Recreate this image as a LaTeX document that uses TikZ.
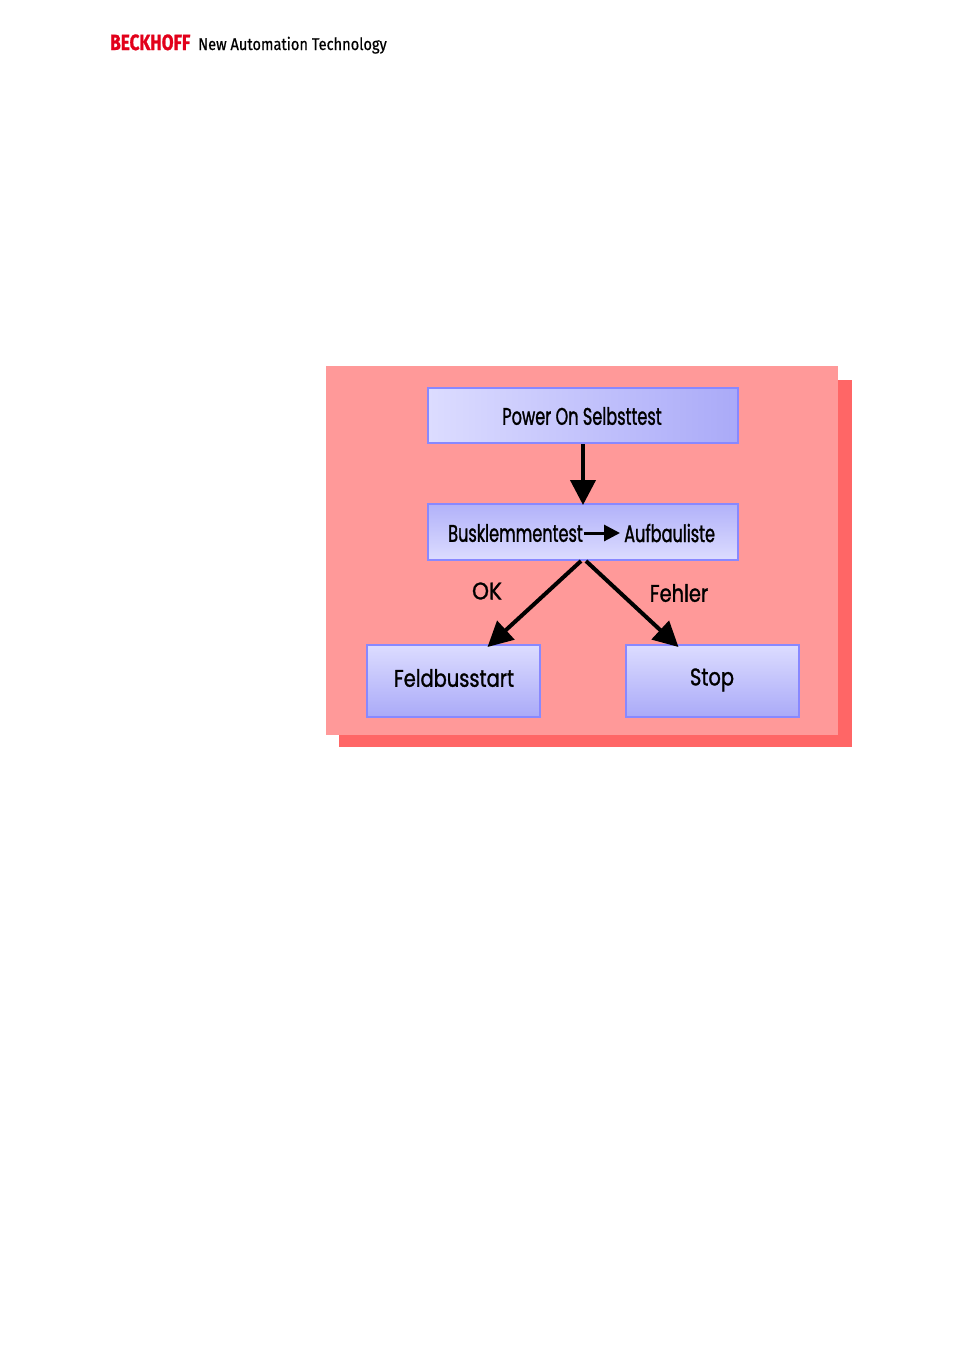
\documentclass[tikz,border=0pt]{standalone}
\usepackage{fontspec}
\usetikzlibrary{arrows.meta}
\newfontfamily\diafontA[FakeStretch=0.672,FakeBold=1.2]{Poppins}
\newfontfamily\diafontB[FakeStretch=0.81,FakeBold=1.2]{Poppins}
\newfontfamily\diafontC[FakeStretch=0.9,FakeBold=1.2]{Poppins}
\newfontfamily\headfont[FakeStretch=0.86,FakeBold=0.6]{Fira Sans}
\newfontfamily\logofont[FakeStretch=0.78,FakeBold=1]{Fira Sans}
\definecolor{pinkbg}{HTML}{FF9999}
\definecolor{pinkshadow}{HTML}{FF6666}
\definecolor{boxline}{HTML}{8888FF}
\definecolor{boxlight}{HTML}{DCDCFF}
\definecolor{boxdark}{HTML}{AAAAF8}
\definecolor{beckred}{HTML}{E2001A}
\tikzset{
  boxnode/.style={draw=boxline, line width=2pt, rectangle, inner sep=0pt},
  diatext/.style={font=\diafontA\fontsize{24}{26}\selectfont, inner sep=0pt},
  lowtext/.style={font=\diafontB\fontsize{24}{26}\selectfont, inner sep=0pt},
  flowarrow/.style={line width=4pt, -{Triangle[length=25pt,width=25pt]}},
  smallarrow/.style={line width=3pt, -{Triangle[length=16pt,width=16pt]}}
}
\begin{document}
\begin{tikzpicture}[x=1pt,y=-1pt]
\useasboundingbox (0,0) rectangle (954,1350);
% header
\node[anchor=base west, inner sep=0pt, text=beckred, font=\logofont\bfseries\fontsize{22}{24}\selectfont] (logo) at (110,50) {BECKHOFF};
\node[anchor=base west, inner sep=0pt, font=\headfont\fontsize{17}{19}\selectfont] (slogan) at (198,50) {New Automation Technology};
% background panel
\fill[pinkshadow] (339,380) rectangle (852,747);
\fill[pinkbg] (326,366) rectangle (838,735);
% boxes
\node[boxnode, minimum width=310pt, minimum height=55pt, left color=boxlight, right color=boxdark, anchor=north west] (b1) at (427,387) {};
\node[diatext] (t1) at (582,416) {Power On Selbsttest};
\node[boxnode, minimum width=310pt, minimum height=56pt, top color=boxdark!85!boxlight, bottom color=boxlight, anchor=north west] (b2) at (427,503) {};
\node[diatext, anchor=east] (t2a) at (583,533) {Busklemmentest};
\node[diatext, anchor=west] (t2b) at (624,533) {Aufbauliste};
\node[boxnode, minimum width=173pt, minimum height=72pt, top color=boxlight, bottom color=boxdark, anchor=north west] (b3) at (366,644) {};
\node[lowtext] (t3) at (454,678) {Feldbusstart};
\node[boxnode, minimum width=173pt, minimum height=72pt, top color=boxlight, bottom color=boxdark, anchor=north west] (b4) at (625,644) {};
\node[lowtext] (t4) at (712,680) {Stop};
% labels
\node[font=\diafontC\fontsize{24}{26}\selectfont, inner sep=0pt] (ok) at (487,591) {OK};
\node[lowtext] (fe) at (679,593) {Fehler};
% arrows
\draw[flowarrow] (b1.south) -- ([yshift=-2pt]b2.north);
\draw[smallarrow] ([xshift=1pt]t2a.east) -- ([xshift=-4pt]t2b.west);
\draw[flowarrow] ([xshift=-2pt]b2.south) -- ([xshift=34pt,yshift=-3pt]b3.north);
\draw[flowarrow] ([xshift=3pt]b2.south) -- ([xshift=-34pt,yshift=-3pt]b4.north);
\end{tikzpicture}
\end{document}
